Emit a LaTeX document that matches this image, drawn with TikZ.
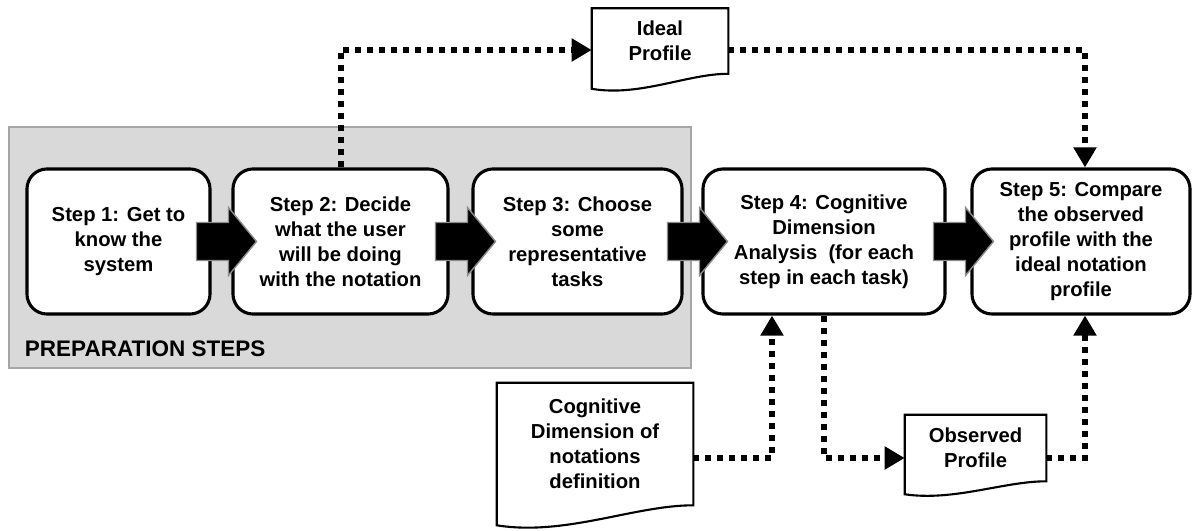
\documentclass[tikz,border=0pt]{standalone}
\usepackage{fontspec}
\setmainfont{Liberation Sans}
\usetikzlibrary{arrows.meta,calc}

\tikzset{
  stepbox/.style={draw, line width=2.2pt, rounded corners=0.5cm, fill=white,
    align=center, font=\fontsize{14.4}{17.8}\selectfont\bfseries,
    minimum height=3.625cm, inner sep=2pt},
  docbox/.style={align=center, font=\fontsize{14.4}{17.8}\selectfont\bfseries, inner sep=0pt},
  docline/.style={draw, line width=1.5pt, line join=miter},
  dotline/.style={line width=0.15cm, dash pattern=on 0.15cm off 0.15cm,
    -{Triangle[length=0.5cm,width=0.55cm]}},
  blockarr/.style={fill=black, draw=black!45, line width=1pt, line join=miter},
}

% outline of a document: name, extra depth of the left corner
\newcommand{\docshape}[2]{%
  \draw[docline] ($(#1.south west)+(0,#2)$) -- (#1.north west) -- (#1.north east) -- (#1.south east)
    .. controls ($(#1.south west)!0.7!(#1.south east)$)
    and ($(#1.south west)!0.35!(#1.south east)+(0,{1.55*#2})$)
    .. ($(#1.south west)+(0,#2)$) -- cycle;}

\begin{document}
\begin{tikzpicture}[x=0.025cm, y=-0.025cm]
  \useasboundingbox (0,0) rectangle (1198,531);

  % preparation area
  \draw[fill=gray!30, draw=gray!70, line width=1pt] (9,127) rectangle (691,368);
  \node[anchor=west, font=\fontsize{16}{19}\selectfont\bfseries] (prep) at (20,349) {PREPARATION STEPS};

  % steps
  \node[stepbox, minimum width=4.575cm] (s1) at (118.5,241.5) {Step 1: Get to\\know the\\system};
  \node[stepbox, minimum width=5.375cm] (s2) at (340.5,241.5) {Step 2: Decide\\what the user\\will be doing\\with the notation};
  \node[stepbox, minimum width=5.225cm] (s3) at (577.5,241.5) {Step 3: Choose\\some\\representative\\tasks};
  \node[stepbox, minimum width=6.05cm] (s4) at (824,241.5) {Step 4: Cognitive\\Dimension\\Analysis \ (for each\\step in each task)};
  \node[stepbox, minimum width=5.45cm] (s5) at (1081,241.5) {Step 5: Compare\\the observed\\profile with the\\ideal notation\\profile};

  % block arrows between the steps
  \foreach \a/\b in {s1/s2, s2/s3, s3/s4, s4/s5} {
    \coordinate (m) at ($(\a.east)!0.5!(\b.west)$);
    \filldraw[blockarr] ($(m)+(-25,-19)$) -- ($(m)+(7,-19)$) -- ($(m)+(7,-34)$) -- ($(m)+(35,0)$)
      -- ($(m)+(7,34)$) -- ($(m)+(7,19)$) -- ($(m)+(-25,19)$) -- cycle;
  }

  % documents
  \node[docbox, minimum width=3.4cm, minimum height=1.625cm] (ideal) at (660,41) {Ideal\\Profile};
  \docshape{ideal}{15}
  \node[docbox, minimum width=4.9cm, minimum height=3.05cm] (cogdoc) at (595,444) {Cognitive\\Dimension of\\notations\\definition};
  \docshape{cogdoc}{20}
  \node[docbox, minimum width=3.525cm, minimum height=1.65cm] (obs) at (975.5,448) {Observed\\Profile};
  \docshape{obs}{13}

  % dotted connectors
  \coordinate (idealL) at ($(ideal.west)+(0,9)$);
  \coordinate (idealR) at ($(ideal.east)+(0,9)$);
  \coordinate (cogR) at ($(cogdoc.east)+(0,14)$);
  \coordinate (s4L) at ($(s4.south)+(-52,0)$);
  \coordinate (obsL) at ($(obs.west)+(0,10)$);
  \coordinate (obsR) at ($(obs.east)+(0,10)$);
  \coordinate (s5T) at ($(s5.north)+(4,0)$);
  \coordinate (s5B) at ($(s5.south)+(4,0)$);

  \draw[dotline] (s2.north) |- (idealL);
  \draw[dotline] (idealR) -| (s5T);
  \draw[dotline] (cogR) -| (s4L);
  \draw[dotline] (s4.south) |- (obsL);
  \draw[dotline] (obsR) -| (s5B);
\end{tikzpicture}
\end{document}
